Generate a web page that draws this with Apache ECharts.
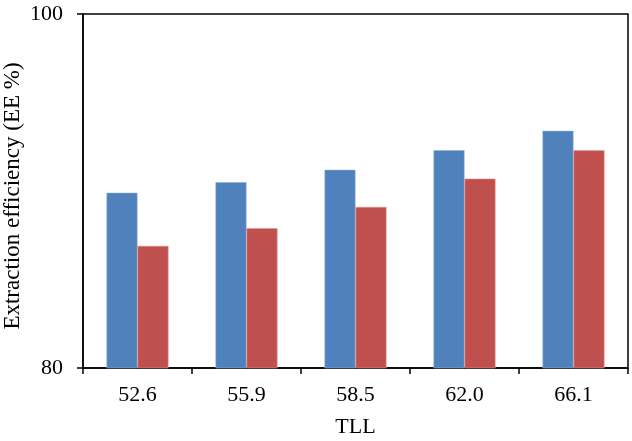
<!DOCTYPE html>
<html>
<head>
<meta charset="utf-8">
<script src="https://cdn.jsdelivr.net/npm/echarts@6/dist/echarts.min.js"></script>
<style>
  html, body { margin: 0; padding: 0; background: #fff; }
  #chart { width: 632px; height: 441px; }
</style>
</head>
<body>
<div id="chart"></div>
<script>
// data
var categories = ['52.6', '55.9', '58.5', '62.0', '66.1'];
var seriesBlue = [89.9, 90.5, 91.2, 92.3, 93.4];
var seriesRed = [86.9, 87.9, 89.1, 90.7, 92.3];
var yTicks = [80, 100];

var chart = echarts.init(document.getElementById('chart'));
var font = 'Liberation Serif, Times New Roman, serif';

var option = {
  animation: false,
  grid: {
    left: 83,
    right: 4,
    top: 14,
    bottom: 73,
    outerBoundsMode: 'none',
    containLabel: false,
    show: true,
    borderColor: '#000',
    borderWidth: 1.5
  },
  xAxis: {
    type: 'category',
    data: categories,
    name: 'TLL',
    nameLocation: 'middle',
    nameGap: 48,
    nameMoveOverlap: false,
    nameTextStyle: { color: '#000', fontFamily: font, fontSize: 22 },
    axisLine: { lineStyle: { color: '#000', width: 1.5 } },
    axisTick: { show: true, inside: false, length: 6, alignWithLabel: false, lineStyle: { color: '#000', width: 1.5 } },
    axisLabel: { color: '#000', fontFamily: font, fontSize: 22, margin: 16 },
    splitLine: { show: false }
  },
  yAxis: {
    type: 'value',
    min: yTicks[0],
    max: yTicks[yTicks.length - 1],
    interval: yTicks[1] - yTicks[0],
    name: 'Extraction efficiency (EE %)',
    nameLocation: 'middle',
    nameGap: 59,
    nameMoveOverlap: false,
    nameTextStyle: { color: '#000', fontFamily: font, fontSize: 23, padding: [0, 10, 0, 0] },
    axisLine: { show: true, lineStyle: { color: '#000', width: 1.5 } },
    axisTick: { show: true, length: 6, lineStyle: { color: '#000', width: 1.5 } },
    axisLabel: { color: '#000', fontFamily: font, fontSize: 22, margin: 20 },
    splitLine: { show: false }
  },
  series: [
    {
      type: 'bar',
      data: seriesBlue,
      barWidth: 31,
      barGap: '0%',
      itemStyle: { color: '#4F81BD', borderColor: '#8DB0DC', borderWidth: 0.6 }
    },
    {
      type: 'bar',
      data: seriesRed,
      barWidth: 31,
      barGap: '0%',
      itemStyle: { color: '#C0504D', borderColor: '#E09593', borderWidth: 0.6 }
    }
  ]
};

chart.setOption(option);
</script>
</body>
</html>
